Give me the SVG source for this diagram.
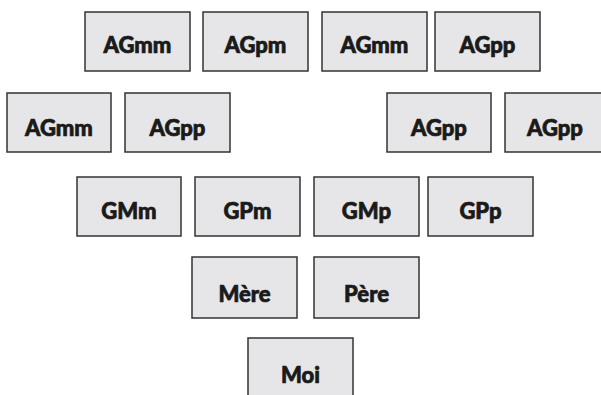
<svg xmlns="http://www.w3.org/2000/svg" width="601" height="395" viewBox="0 0 601 395">
<style>
.b{fill:#e6e6e8;stroke:#333;stroke-width:1.5}
.t{font-family:Lato,"Open Sans",sans-serif;font-weight:900;font-size:22px;fill:#1a1a1a;stroke:#1a1a1a;stroke-width:0.7;text-anchor:middle}
</style>
<rect width="601" height="395" fill="#fff"/>
<g id="n1"><rect class="b" x="85" y="12" width="105" height="59"/><text class="t" x="137.5" y="53">AGmm</text></g>
<g id="n2"><rect class="b" x="203" y="12" width="105" height="59"/><text class="t" x="255.5" y="53">AGpm</text></g>
<g id="n3"><rect class="b" x="322" y="12" width="105" height="59"/><text class="t" x="374.5" y="53">AGmm</text></g>
<g id="n4"><rect class="b" x="435" y="12" width="105" height="59"/><text class="t" x="487.5" y="53">AGpp</text></g>
<g id="n5"><rect class="b" x="7" y="93" width="104" height="59"/><text class="t" x="59" y="136">AGmm</text></g>
<g id="n6"><rect class="b" x="125" y="93" width="105" height="59"/><text class="t" x="177.5" y="136">AGpp</text></g>
<g id="n7"><rect class="b" x="387" y="93" width="104" height="59"/><text class="t" x="439" y="136">AGpp</text></g>
<g id="n8"><rect class="b" x="505" y="93" width="105" height="59"/><text class="t" x="555" y="136">AGpp</text></g>
<g id="n9"><rect class="b" x="77" y="177" width="104" height="59"/><text class="t" x="129" y="219">GMm</text></g>
<g id="n10"><rect class="b" x="195" y="177" width="105" height="59"/><text class="t" x="247.5" y="219">GPm</text></g>
<g id="n11"><rect class="b" x="314" y="177" width="105" height="59"/><text class="t" x="366.5" y="219">GMp</text></g>
<g id="n12"><rect class="b" x="428" y="177" width="105" height="59"/><text class="t" x="480.5" y="219">GPp</text></g>
<g id="n13"><rect class="b" x="192" y="257" width="105" height="61"/><text class="t" x="244.5" y="302">Mère</text></g>
<g id="n14"><rect class="b" x="314" y="257" width="105" height="61"/><text class="t" x="366.5" y="302">Père</text></g>
<g id="n15"><rect class="b" x="248" y="338" width="105" height="70"/><text class="t" x="300.5" y="383">Moi</text></g>
<g id="connectors"/>
</svg>
